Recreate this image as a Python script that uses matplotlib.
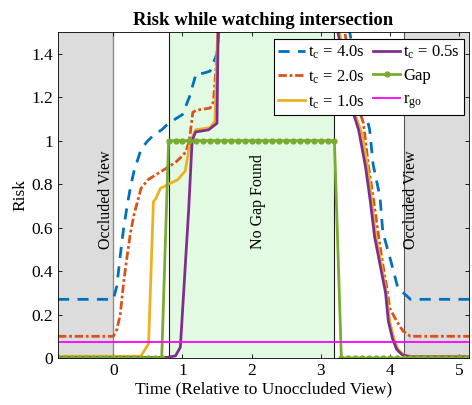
import numpy as np
import matplotlib
matplotlib.use('Agg')
import matplotlib.pyplot as plt

plt.rcParams['font.family'] = 'Liberation Serif'
plt.rcParams['mathtext.fontset'] = 'custom'
plt.rcParams['mathtext.rm'] = 'Liberation Serif'

# risk curves (t in s relative to unoccluded view)
t4 = [-0.8, 0.0, 0.05, 0.1, 0.15, 0.2, 0.25, 0.3, 0.4, 0.5, 0.6, 0.7, 0.8, 0.9, 1.0,
      1.1, 1.2, 1.3, 1.4, 1.5, 1.55,
      3.35, 3.42, 3.6, 3.71, 3.76, 3.86, 3.9, 4.03, 4.12, 4.25, 4.3, 5.15]
r4 = [0.27, 0.27, 0.33, 0.47, 0.6, 0.7, 0.79, 0.86, 0.96, 1.0, 1.03, 1.05, 1.08, 1.1, 1.12,
      1.2, 1.31, 1.31, 1.32, 1.4, 1.6,
      1.6, 1.5, 1.2, 1.05, 0.89, 0.74, 0.58, 0.43, 0.32, 0.285, 0.27, 0.27]

t2 = [-0.8, 0.0, 0.05, 0.1, 0.15, 0.2, 0.25, 0.3, 0.35, 0.4, 0.5, 0.6, 0.7, 0.8, 0.9,
      1.0, 1.05, 1.1, 1.15, 1.2, 1.3, 1.4, 1.45, 1.5, 1.55,
      3.3, 3.5, 3.62, 3.69, 3.76, 3.83, 3.9, 3.96, 4.0, 4.1, 4.19, 4.3, 5.15]
r2 = [0.1, 0.1, 0.13, 0.2, 0.35, 0.47, 0.58, 0.66, 0.72, 0.78, 0.82, 0.84, 0.86, 0.88, 0.9,
      0.93, 0.95, 1.0, 1.13, 1.14, 1.145, 1.15, 1.18, 1.4, 1.6,
      1.6, 1.2, 1.08, 0.89, 0.74, 0.58, 0.43, 0.32, 0.23, 0.17, 0.125, 0.1, 0.1]

t1 = [-0.8, 0.4, 0.44, 0.51, 0.58, 0.61, 0.68, 0.8, 0.93, 1.04, 1.11, 1.19, 1.4, 1.47, 1.52,
      3.22, 3.3, 3.5, 3.6, 3.68, 3.74, 3.8, 3.88, 3.95, 4.0, 4.06, 4.12, 4.2, 4.3, 5.15]
r1 = [0.008, 0.008, 0.03, 0.065, 0.72, 0.73, 0.78, 0.8, 0.82, 0.86, 0.99, 1.05, 1.06, 1.09, 1.6,
      1.6, 1.45, 1.12, 1.03, 0.88, 0.72, 0.56, 0.43, 0.3, 0.17, 0.09, 0.04, 0.015, 0.008, 0.008]

t05 = [-0.8, 0.78, 0.9, 0.97, 1.09, 1.14, 1.19, 1.38, 1.5, 1.52,
       3.2, 3.25, 3.45, 3.55, 3.65, 3.72, 3.78, 3.86, 3.94, 3.98, 4.04, 4.1, 4.18, 4.3, 5.15]
r05 = [0.003, 0.003, 0.01, 0.05, 0.68, 1.0, 1.04, 1.05, 1.08, 1.6,
       1.6, 1.5, 1.15, 1.05, 0.88, 0.72, 0.56, 0.43, 0.3, 0.17, 0.09, 0.04, 0.015, 0.005, 0.005]

# gap indicator sampled every 0.1 s
gap_t = np.round(np.arange(-0.8, 5.15, 0.1), 1)
gap_v = [0] * 16 + [1] * 25 + [0] * 19

r_go = 0.075

fig = plt.figure(figsize=(4.72, 4.05), dpi=100)
ax = fig.add_axes([0.123, 0.116, 0.871, 0.805])

ax.axvspan(-0.8, 0.0, facecolor='#dcdcdc', edgecolor='none', zorder=0)
ax.axvspan(4.2, 5.15, facecolor='#dcdcdc', edgecolor='none', zorder=0)
ax.axvspan(0.8, 3.2, facecolor='#e2fae2', edgecolor='none', zorder=0)
ax.axvline(0.0, color='#8c8c8c', lw=1, zorder=1)
ax.axvline(0.8, color='#1a1a1a', lw=0.8, zorder=1)
ax.axvline(3.2, color='#1a1a1a', lw=0.8, zorder=1)
ax.axvline(4.2, color='#555555', lw=0.8, zorder=1)

ax.plot(t4, r4, color='#0072BD', lw=2, dashes=(4, 3), label=r'$\mathregular{t_c}$ = 4.0s')
ax.plot(t2, r2, color='#D95319', lw=2, linestyle=(0, (3, 1, 1, 1)), label=r'$\mathregular{t_c}$ = 2.0s')
ax.plot(t1, r1, color='#EDB120', lw=2, label=r'$\mathregular{t_c}$ = 1.0s')
ax.plot(t05, r05, color='#7E2F8E', lw=2, label=r'$\mathregular{t_c}$ = 0.5s')
ax.plot(gap_t, gap_v, color='#77AC30', lw=2, marker='.', markersize=7, label='Gap')
ax.axhline(r_go, color='#FF00FF', lw=1.3, label=r'$\mathregular{r_{go}}$')

ax.text(-0.1, 0.5, 'Occluded View', rotation=90, ha='center', va='bottom', fontsize=11.5)
ax.text(2.1, 0.5, 'No Gap Found', rotation=90, ha='center', va='bottom', fontsize=11.5)
ax.text(4.31, 0.5, 'Occluded View', rotation=90, ha='center', va='bottom', fontsize=11.5)

ax.set_xlim(-0.8, 5.15)
ax.set_ylim(0, 1.5)
ax.set_xticks([0, 1, 2, 3, 4, 5])
ax.set_yticks([0, 0.2, 0.4, 0.6, 0.8, 1.0, 1.2, 1.4])
ax.set_yticklabels(['0', '0.2', '0.4', '0.6', '0.8', '1', '1.2', '1.4'])
ax.tick_params(direction='in', top=True, right=True, labelsize=12.5, length=3, width=0.6)
for s in ax.spines.values():
    s.set_linewidth(0.6)

ax.set_xlabel('Time (Relative to Unoccluded View)', fontsize=12.5, labelpad=2)
ax.set_ylabel('Risk', fontsize=12.5, labelpad=2)
ax.set_title('Risk while watching intersection', fontsize=13.5, fontweight='bold', pad=5)

leg = ax.legend(ncol=2, loc='upper right', bbox_to_anchor=(0.988, 0.978), fontsize=12,
                fancybox=False, framealpha=1, edgecolor='black', handlelength=1.6,
                columnspacing=0.5, handletextpad=0.2, labelspacing=0.45, borderpad=0.25,
                borderaxespad=0.0)
leg.get_frame().set_linewidth(0.8)

plt.savefig('out.png', dpi=100)
